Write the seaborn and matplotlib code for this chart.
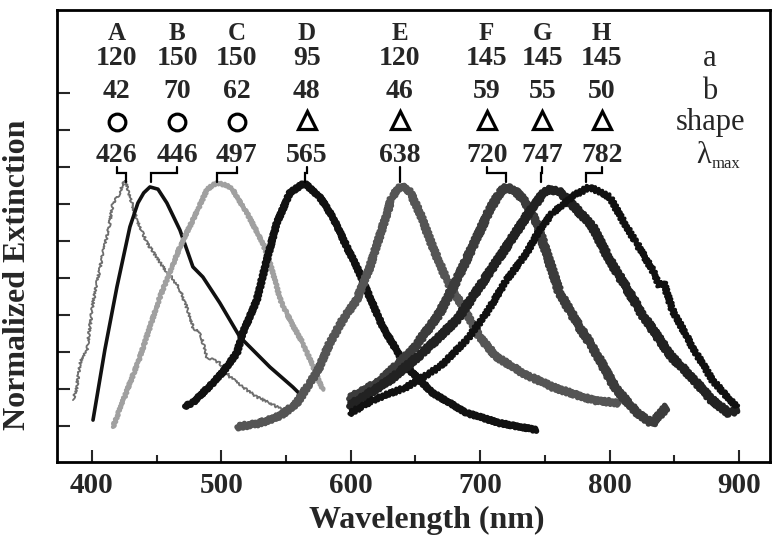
import numpy as np
import pandas as pd
import matplotlib
matplotlib.use("Agg")
import matplotlib.pyplot as plt
from matplotlib.ticker import MultipleLocator
import seaborn as sns

# Spectra: wavelength (nm) vs normalized extinction
wl_A = [385.3, 388, 390.7, 396.1, 400.8, 408.5, 413, 416.2, 420, 425.5, 429.3, 435,
        442.5, 448, 454.8, 462, 468, 474, 478, 484, 488.8, 498.8, 506.6, 516.6, 527.4,
        537.5, 547.5, 554.4]
ext_A = [0.105, 0.15, 0.255, 0.308, 0.499, 0.701, 0.8, 0.904, 0.93, 0.997, 0.93, 0.83,
         0.742, 0.7, 0.645, 0.6, 0.551, 0.47, 0.401, 0.37, 0.28, 0.255, 0.199, 0.158, 0.118,
         0.093, 0.065, 0.08]

wl_B = [400.8, 410, 419.3, 429.3, 435.5, 440, 444.8, 451, 457.9, 468, 478, 485.7, 498.8,
        514.3, 537.5, 555.2, 562.9]
ext_B = [0.024, 0.31, 0.564, 0.807, 0.904, 0.945, 0.969, 0.96, 0.904, 0.794, 0.645, 0.604,
         0.499, 0.361, 0.239, 0.158, 0.118]

wl_C = [416.2, 437.1, 452.5, 468, 478, 488.8, 493.4, 497.3, 504, 508.9, 519.7, 532, 537.5,
        546, 555, 563, 571, 578.4]
ext_C = [-0.004, 0.28, 0.523, 0.726, 0.835, 0.957, 0.977, 0.985, 0.975, 0.957, 0.864, 0.742,
         0.661, 0.505, 0.41, 0.336, 0.24, 0.146]

wl_D = [471.8, 478, 493.4, 501.2, 512, 516.6, 527.4, 535.1, 542.9, 552.9, 564.1, 576.1,
        586.1, 596.9, 604.6, 624.7, 643.2, 663.3, 689.6, 715.1, 743.6]
ext_D = [0.08, 0.095, 0.174, 0.219, 0.296, 0.377, 0.511, 0.673, 0.823, 0.945, 0.985, 0.928,
         0.847, 0.726, 0.645, 0.401, 0.239, 0.134, 0.053, 0.012, -0.016]

wl_E = [512, 529.7, 545.2, 558.3, 568.3, 573.7, 583.8, 593.8, 604.6, 614, 623.9, 632,
        638.5, 645.6, 653.3, 663.3, 674.1, 689.6, 699.6, 712.7, 732.8, 756, 786.9, 807.7]
ext_E = [-0.004, 0.012, 0.04, 0.093, 0.174, 0.215, 0.336, 0.43, 0.511, 0.632, 0.795, 0.93,
         0.975, 0.95, 0.864, 0.726, 0.592, 0.458, 0.36, 0.28, 0.215, 0.158, 0.105, 0.093]

wl_F = [598.5, 622.4, 648, 668.7, 681.9, 694.2, 707.3, 715.1, 720.5, 728, 735.9, 743.6,
        761.4, 776.8, 786.9, 802.3, 807.7, 820, 833.2, 844]
ext_F = [0.11, 0.18, 0.308, 0.458, 0.592, 0.726, 0.876, 0.945, 0.97, 0.95, 0.9, 0.823,
         0.539, 0.401, 0.32, 0.174, 0.134, 0.06, 0.01, 0.077]

wl_G = [598.5, 630.1, 655.6, 681.9, 699.6, 715.1, 730.5, 740.5, 751.3, 760, 769.1, 786.9,
        800, 813.1, 825.5, 848, 865, 878, 892.7, 898.8]
ext_G = [0.08, 0.186, 0.296, 0.43, 0.564, 0.685, 0.807, 0.888, 0.957, 0.955, 0.91, 0.807,
         0.673, 0.56, 0.45, 0.28, 0.19, 0.11, 0.05, 0.07]

wl_H = [599, 617, 643.2, 668.7, 689.6, 705, 720.5, 735.9, 745.9, 756, 773, 784.6, 800,
        813.1, 820.8, 833.2, 838.6, 841.5, 848.6, 864.1, 879.5, 898.1]
ext_H = [0.05, 0.105, 0.158, 0.239, 0.349, 0.458, 0.592, 0.701, 0.795, 0.864, 0.936, 0.969,
         0.928, 0.807, 0.742, 0.632, 0.57, 0.585, 0.47, 0.32, 0.186, 0.077]

# Table on top of the plot
letters = ['A', 'B', 'C', 'D', 'E', 'F', 'G', 'H']
a_vals = [120, 150, 150, 95, 120, 145, 145, 145]
b_vals = [42, 70, 62, 48, 46, 59, 55, 50]
shapes = ['circle', 'circle', 'circle', 'triangle', 'triangle', 'triangle', 'triangle', 'triangle']
lam_max = [426, 446, 497, 565, 638, 720, 747, 782]

spectra = {
    'A': (wl_A, ext_A), 'B': (wl_B, ext_B), 'C': (wl_C, ext_C), 'D': (wl_D, ext_D),
    'E': (wl_E, ext_E), 'F': (wl_F, ext_F), 'G': (wl_G, ext_G), 'H': (wl_H, ext_H),
}

# line style per spectrum: colour, width, jagged texture (sketch params)
styles = {
    'A': ('#6e6e6e', 1.3, (1.2, 3, 6)),
    'B': ('#111111', 2.6, None),
    'C': ('#a0a0a0', 3.0, (1.2, 4, 2)),
    'D': ('#111111', 4.2, (1.5, 4, 1.5)),
    'E': ('#555555', 3.8, (2.4, 4, 1.5)),
    'F': ('#3c3c3c', 4.0, (2.8, 4, 1.5)),
    'G': ('#222222', 4.0, (2.8, 4, 1.5)),
    'H': ('#111111', 3.0, (2.4, 4, 1.5)),
}
# x position of each column of labels
col_x = [419, 466, 512, 566, 638, 705, 748, 794]

sns.set_style("ticks")
plt.rcParams['font.family'] = ['Liberation Serif', 'DejaVu Serif']

fig = plt.figure(figsize=(7.77, 5.35), dpi=100)
ax = fig.add_axes([0.0734, 0.1364, 0.9176, 0.8448])

for key, (wl, ext) in spectra.items():
    df = pd.DataFrame({'wl': wl, 'ext': ext})
    color, lw, sketch = styles[key]
    sns.lineplot(data=df, x='wl', y='ext', sort=False, estimator=None,
                 color=color, linewidth=lw, ax=ax)
    if sketch is not None:
        ax.lines[-1].set_sketch_params(*sketch)

# header rows
y_let, y_a, y_b, y_shape, y_lam = 1.593, 1.488, 1.354, 1.232, 1.095
for i, L in enumerate(letters):
    x = col_x[i]
    ax.text(x, y_let, L, ha='center', va='center', fontsize=18, fontweight='bold')
    ax.text(x, y_a, str(a_vals[i]), ha='center', va='center', fontsize=20, fontweight='bold')
    ax.text(x, y_b, str(b_vals[i]), ha='center', va='center', fontsize=20, fontweight='bold')
    ax.text(x, y_lam, str(lam_max[i]), ha='center', va='center', fontsize=20, fontweight='bold')
    if shapes[i] == 'circle':
        ax.plot([x], [y_shape], marker='o', ms=12, mfc='none', mec='black', mew=2.3, ls='none')
    else:
        ax.plot([x], [y_shape + 0.01], marker='^', ms=13, mfc='none', mec='black', mew=2.3, ls='none')
    # bracket from the label to the peak
    ax.plot([x, x, lam_max[i], lam_max[i]], [1.05, 1.026, 1.026, 0.99],
            color='black', lw=1.6, solid_joinstyle='miter')

# row names
ax.text(877, y_a, 'a', ha='center', va='center', fontsize=22)
ax.text(877, y_b, 'b', ha='center', va='center', fontsize=22)
ax.text(878, y_shape, 'shape', ha='center', va='center', fontsize=22)
ax.text(873, y_lam, 'λ', ha='center', va='center', fontsize=22)
ax.text(890, 1.06, 'max', ha='center', va='center', fontsize=12)

ax.set_xlim(373, 924)
ax.set_ylim(-0.146, 1.686)
ax.xaxis.set_major_locator(MultipleLocator(100))
ax.xaxis.set_minor_locator(MultipleLocator(50))
ax.set_yticks(np.arange(0, 1.36, 0.15))
ax.tick_params(axis='both', which='major', direction='in', length=9, width=1.5,
               labelsize=21, pad=7, labelleft=False)
ax.tick_params(axis='x', which='minor', direction='in', length=5, width=1.5)
for lab in ax.get_xticklabels():
    lab.set_fontweight('bold')
for sp in ax.spines.values():
    sp.set_visible(True)
    sp.set_linewidth(2)
    sp.set_color('black')

ax.set_xlabel('Wavelength (nm)', fontsize=23, fontweight='bold')
ax.set_ylabel('Normalized Extinction', fontsize=23, fontweight='bold')
ax.xaxis.set_label_coords(0.519, -0.098)
ax.yaxis.set_label_coords(-0.035, 0.414)

fig.savefig('out.png', dpi=100)
